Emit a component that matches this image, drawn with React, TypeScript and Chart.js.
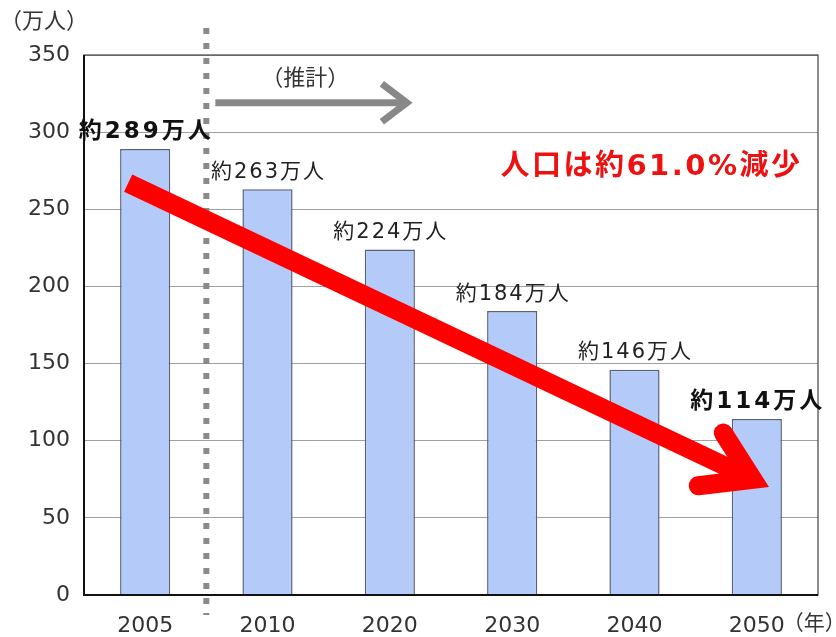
import { useEffect, useRef } from "react";
import { Chart, registerables } from "chart.js";

Chart.register(...registerables);

const years = ["2005", "2010", "2020", "2030", "2040", "2050"];
const population = [289, 263, 224, 184, 146, 114];
const yMin = 0;
const yMax = 350;
const yStep = 50;
const labelTexts = population.map((v) => `約${v}万人`);
const yUnit = "（万人）";
const xUnit = "（年）";
const forecastText = "（推計）";
const declineText = "人口は約61.0%減少";

const FONT = '"DejaVu Sans", "Noto Sans CJK JP", sans-serif';

export default function App() {
  const ref = useRef<HTMLCanvasElement>(null);

  useEffect(() => {
    const canvas = ref.current;
    if (!canvas) return;

    const overlay = {
      id: "overlay",
      afterDatasetsDraw(chart: any) {
        const { ctx, chartArea: ca, scales } = chart;
        const xs = scales.x;
        const ys = scales.y;
        ctx.save();

        // plot frame
        ctx.strokeStyle = "#444";
        ctx.lineWidth = 1.2;
        ctx.strokeRect(ca.left, ca.top, ca.right - ca.left, ca.bottom - ca.top);
        ctx.strokeStyle = "#111";
        ctx.lineWidth = 2;
        ctx.beginPath();
        ctx.moveTo(ca.left, ca.top);
        ctx.lineTo(ca.left, ca.bottom);
        ctx.lineTo(ca.right, ca.bottom);
        ctx.stroke();

        // dotted divider between actual and forecast
        const xd = (xs.getPixelForValue(0) + xs.getPixelForValue(1)) / 2;
        ctx.strokeStyle = "#8a8a8a";
        ctx.lineWidth = 6;
        ctx.setLineDash([6, 9]);
        ctx.beginPath();
        ctx.moveTo(xd, ca.top - 27);
        ctx.lineTo(xd, ca.bottom + 20);
        ctx.stroke();
        ctx.setLineDash([]);

        // gray forecast arrow
        const ya = ys.getPixelForValue(319);
        const xe = xs.getPixelForValue(2) + 21;
        ctx.strokeStyle = "#888";
        ctx.lineWidth = 7;
        ctx.lineCap = "butt";
        ctx.beginPath();
        ctx.moveTo(xd + 9, ya);
        ctx.lineTo(xe - 4, ya);
        ctx.stroke();
        ctx.lineJoin = "miter";
        ctx.beginPath();
        ctx.moveTo(xe - 29, ya - 19);
        ctx.lineTo(xe - 4, ya);
        ctx.lineTo(xe - 29, ya + 19);
        ctx.stroke();

        ctx.fillStyle = "#333";
        ctx.font = `22px ${FONT}`;
        ctx.textAlign = "center";
        ctx.textBaseline = "middle";
        ctx.fillText(forecastText, xd + 99, ys.getPixelForValue(334));

        // value labels
        population.forEach((v, i) => {
          const bold = i === 0 || i === population.length - 1;
          ctx.font = bold ? `bold 23px ${FONT}` : `21px ${FONT}`;
          (ctx as any).letterSpacing = bold ? "3px" : "2px";
          ctx.fillStyle = bold ? "#111" : "#222";
          ctx.textAlign = "center";
          ctx.textBaseline = "middle";
          ctx.fillText(labelTexts[i], xs.getPixelForValue(i) + 1, ys.getPixelForValue(v) - 17);
        });
        (ctx as any).letterSpacing = "0px";

        // big red arrow
        const sx = xs.getPixelForValue(0) - 17;
        const sy = ys.getPixelForValue(267);
        const jx = xs.getPixelForValue(population.length - 1) - 4;
        const jy = ys.getPixelForValue(75);
        const th = Math.atan2(jy - sy, jx - sx);
        ctx.strokeStyle = "#ff0000";
        ctx.lineWidth = 19;
        ctx.lineCap = "butt";
        ctx.beginPath();
        ctx.moveTo(sx, sy);
        ctx.lineTo(jx, jy);
        ctx.stroke();
        const back = th + Math.PI;
        const wl = 55;
        const wa = 0.56;
        ctx.lineJoin = "miter";
        ctx.lineCap = "round";
        ctx.beginPath();
        ctx.moveTo(jx + wl * Math.cos(back + wa), jy + wl * Math.sin(back + wa));
        ctx.lineTo(jx, jy);
        ctx.lineTo(jx + wl * Math.cos(back - wa), jy + wl * Math.sin(back - wa));
        ctx.stroke();

        // decline text
        ctx.fillStyle = "#ee1111";
        ctx.font = `bold 29px ${FONT}`;
        (ctx as any).letterSpacing = "2.5px";
        ctx.textAlign = "center";
        ctx.textBaseline = "middle";
        ctx.fillText(declineText, xs.getPixelForValue(4) + 17, ys.getPixelForValue(277));
        (ctx as any).letterSpacing = "0px";

        // unit labels
        ctx.fillStyle = "#333";
        ctx.font = `22px ${FONT}`;
        ctx.textAlign = "left";
        ctx.fillText(yUnit, 0, 22);
        ctx.font = `21px ${FONT}`;
        ctx.fillText(xUnit, xs.getPixelForValue(population.length - 1) + 26, ca.bottom + 30);

        ctx.restore();
      },
    };

    const chart = new Chart(canvas, {
      type: "bar",
      data: {
        labels: years,
        datasets: [
          {
            data: population,
            backgroundColor: "#b4caf8",
            borderColor: "#56617c",
            borderWidth: 1.5,
            barPercentage: 0.41,
            categoryPercentage: 1,
          },
        ],
      },
      options: {
        responsive: false,
        animation: false,
        devicePixelRatio: 1,
        layout: { padding: { top: 55, right: 18, left: 0, bottom: 0 } },
        plugins: {
          legend: { display: false },
          tooltip: { enabled: false },
        },
        scales: {
          x: {
            grid: { display: false, drawTicks: false },
            border: { display: false },
            ticks: {
              color: "#333",
              font: { size: 22, family: FONT },
              padding: 18,
              maxRotation: 0,
            },
            afterFit: (s: any) => {
              s.height = 42;
            },
          },
          y: {
            min: yMin,
            max: yMax,
            grid: { color: "#a0a0a0", lineWidth: 1, drawTicks: false },
            border: { display: false },
            ticks: {
              stepSize: yStep,
              color: "#333",
              font: { size: 22, family: FONT },
              padding: 14,
            },
            afterFit: (s: any) => {
              s.width = 84;
            },
          },
        },
      },
      plugins: [overlay],
    });

    return () => chart.destroy();
  }, []);

  return (
    <div style={{ position: "fixed", left: 0, top: 0, width: 836, height: 637, background: "#fff" }}>
      <canvas ref={ref} width={836} height={637} style={{ width: 836, height: 637, display: "block" }} />
    </div>
  );
}
